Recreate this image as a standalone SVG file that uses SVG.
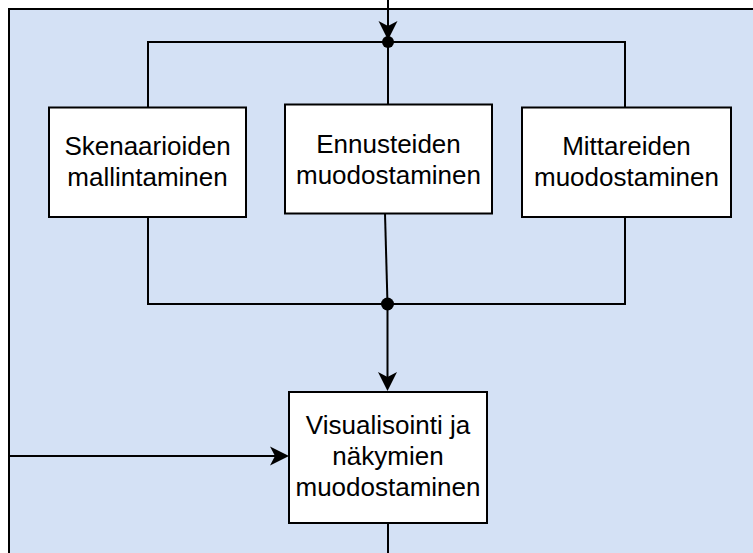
<svg xmlns="http://www.w3.org/2000/svg" width="753" height="553" viewBox="0 0 753 553">
  <style>
    .lane { fill: #D4E1F5; stroke: #000; stroke-width: 2; }
    .box { fill: #FFFFFF; stroke: #000; stroke-width: 2; }
    .label { font-family: "Liberation Sans", Arial, Helvetica, sans-serif; font-size: 26px; fill: #000; text-anchor: middle; }
    .wire { fill: none; stroke: #000; stroke-width: 2; }
    .head { fill: #000; stroke: none; }
    .dot { fill: #000; }
  </style>

  <!-- swimlane background -->
  <rect class="lane" x="9" y="9" width="760" height="560"/>

  <g id="connectors">
    <!-- incoming from above to top junction -->
    <path class="wire" d="M388,0 V30"/>
    <path class="head" d="M388,40 L378.5,21 L388,26 L397.5,21 Z"/>
    <!-- top split bar -->
    <path class="wire" d="M148,107 V42 H625 V107"/>
    <path class="wire" d="M388,42 V104.5"/>
    <circle class="dot" cx="388" cy="42" r="6"/>
    <!-- bottom join bar -->
    <path class="wire" d="M148,217 V304 H625 V217"/>
    <path class="wire" d="M385,213.5 L387.5,304"/>
    <circle class="dot" cx="387.5" cy="304" r="6.5"/>
    <!-- join to visualisation -->
    <path class="wire" d="M387.5,304 V380"/>
    <path class="head" d="M387.5,391 L378,372 L387.5,377 L397,372 Z"/>
    <!-- incoming from the left -->
    <path class="wire" d="M9,456 H278"/>
    <path class="head" d="M289,456 L270,446.5 L275,456 L270,465.5 Z"/>
    <!-- outgoing below -->
    <path class="wire" d="M388,523 V553"/>
  </g>

  <g id="skenaariot">
    <rect class="box" x="49" y="107.5" width="197" height="109.5"/>
    <text class="label" x="147.5" y="155">Skenaarioiden</text>
    <text class="label" x="147.5" y="186">mallintaminen</text>
  </g>

  <g id="ennusteet">
    <rect class="box" x="285" y="104.5" width="207" height="109"/>
    <text class="label" x="388.5" y="152.5">Ennusteiden</text>
    <text class="label" x="388.5" y="183.5">muodostaminen</text>
  </g>

  <g id="mittarit">
    <rect class="box" x="522" y="107.5" width="209" height="109.5"/>
    <text class="label" x="626.5" y="155">Mittareiden</text>
    <text class="label" x="626.5" y="186">muodostaminen</text>
  </g>

  <g id="visualisointi">
    <rect class="box" x="289" y="392" width="198" height="131"/>
    <text class="label" x="388" y="434">Visualisointi ja</text>
    <text class="label" x="388" y="465">näkymien</text>
    <text class="label" x="388" y="496">muodostaminen</text>
  </g>
</svg>
